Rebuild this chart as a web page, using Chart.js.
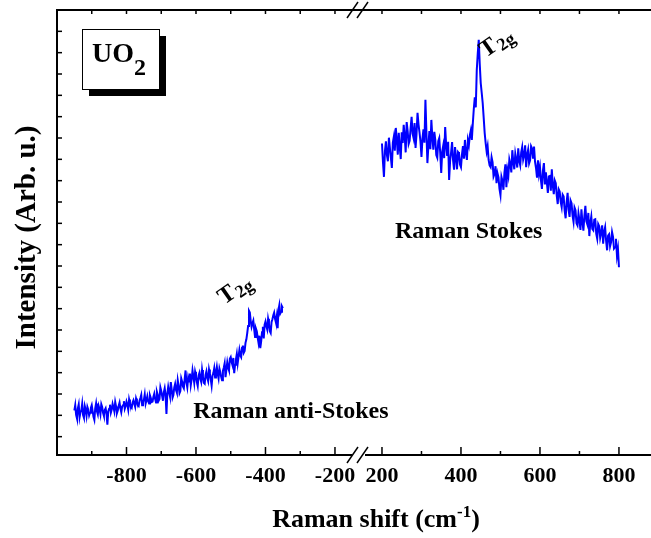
<!DOCTYPE html>
<html>
<head>
<meta charset="utf-8">
<title>UO2 Raman</title>
<script src="https://cdn.jsdelivr.net/npm/chart.js@4.4.1/dist/chart.umd.min.js"></script>
<style>
  html, body { margin: 0; padding: 0; background: #fff; }
  .wrap { position: relative; width: 651px; height: 538px; overflow: hidden; }
  .wrap canvas { position: absolute; top: 0; }
  #left  { left: 0; }
  #right { left: 352px; }
</style>
</head>
<body>
<div class="wrap">
  <canvas id="left" width="651" height="538"></canvas>
  <canvas id="right" width="310" height="538"></canvas>
</div>
<script>
// ===== data (intensity in arbitrary units, 0..100)
const antiStokesShift = [
  -950,-947.5,-945,-942.5,-940,-937.5,-935,-932.5,-930,-927.5,
  -925,-922.5,-920,-917.5,-915,-912.5,-910,-907.5,-905,-902.5,
  -900,-897.5,-895,-892.5,-890,-887.5,-885,-882.5,-880,-877.5,
  -875,-872.5,-870,-867.5,-865,-862.5,-860,-857.5,-855,-852.5,
  -850,-847.5,-845,-842.5,-840,-837.5,-835,-832.5,-830,-827.5,
  -825,-822.5,-820,-817.5,-815,-812.5,-810,-807.5,-805,-802.5,
  -800,-797.5,-795,-792.5,-790,-787.5,-785,-782.5,-780,-777.5,
  -775,-772.5,-770,-767.5,-765,-762.5,-760,-757.5,-755,-752.5,
  -750,-747.5,-745,-742.5,-740,-737.5,-735,-732.5,-730,-727.5,
  -725,-722.5,-720,-717.5,-715,-712.5,-710,-707.5,-705,-702.5,
  -700,-697.5,-695,-692.5,-690,-687.5,-685,-682.5,-680,-677.5,
  -675,-672.5,-670,-667.5,-665,-662.5,-660,-657.5,-655,-652.5,
  -650,-647.5,-645,-642.5,-640,-637.5,-635,-632.5,-630,-627.5,
  -625,-622.5,-620,-617.5,-615,-612.5,-610,-607.5,-605,-602.5,
  -600,-597.5,-595,-592.5,-590,-587.5,-585,-582.5,-580,-577.5,
  -575,-572.5,-570,-567.5,-565,-562.5,-560,-557.5,-555,-552.5,
  -550,-547.5,-545,-542.5,-540,-537.5,-535,-532.5,-530,-527.5,
  -525,-522.5,-520,-517.5,-515,-512.5,-510,-507.5,-505,-502.5,
  -500,-497.5,-495,-492.5,-490,-487.5,-485,-482.5,-480,-477.5,
  -475,-472.5,-470,-467.5,-465,-462.5,-460,-457.5,-455,-452.5,
  -450,-447.5,-445,-442.5,-440,-437.5,-435,-432.5,-430,-427.5,
  -425,-422.5,-420,-417.5,-415,-412.5,-410,-407.5,-405,-402.5,
  -400,-397.5,-395,-392.5,-390,-387.5,-385,-382.5,-380,-377.5,
  -375,-372.5,-370,-367.5,-365,-362.5,-360,-357.5,-355,-352.5,
  -350
];
const antiStokesInt = [
  10, 11.2, 9, 8.2, 10.5, 11.4, 8.5, 9.6, 10, 11.5,
  9, 8.4, 11, 10.2, 8.8, 10.8, 10.2, 8.9, 9.5, 10.6,
  11.2, 9.9, 8.6, 7.9, 10.5, 11.6, 9.8, 9.1, 11, 10.3,
  9.2, 11.4, 10.8, 9.5, 8.8, 10.1, 10.5, 9.3, 6.8, 9.8,
  10.4, 11.3, 9.5, 10.2, 11.5, 10.7, 9.8, 11.9, 10.9, 9.4,
  10, 11.1, 11.8, 10.5, 9.6, 10.9, 11.2, 12.1, 10.4, 11,
  12, 11.3, 10.2, 12.5, 11.6, 10.9, 10.6, 11.8, 12.3, 11.5,
  10.8, 12.7, 12, 11.2, 11, 12.2, 12.8, 13.5, 11.2, 12,
  12.4, 13.6, 11.5, 12.3, 13.2, 12.1, 11.6, 13.4, 12.8, 11.9,
  12, 13.1, 13.8, 12.6, 11.8, 14.2, 13.5, 12.2, 12.6, 15.2,
  14.4, 13.3, 12.2, 14.1, 15, 13.4, 9.2, 13.8, 15.3, 14.1,
  13.2, 16.4, 14.8, 12.9, 13.5, 15.2, 16, 14.6, 14, 16.8,
  15.6, 13.9, 14.4, 17.2, 16.5, 15.4, 15, 17.1, 19, 16.3,
  15.2, 17.4, 16.5, 18.3, 15.7, 17, 19, 17.6, 16.2, 18.7,
  17.8, 16.4, 15.5, 17.9, 18.5, 17.1, 16.4, 19.1, 17.6, 16.2,
  16, 18, 18.8, 17.3, 16.6, 19.2, 18.2, 17, 15.6, 17.8,
  18.4, 19.5, 17.4, 18.6, 19.8, 18.2, 17.2, 19.4, 18.6, 17.6,
  16.8, 18.9, 19.6, 20.6, 17.5, 19.2, 20.8, 19.6, 19, 21.6,
  22, 20.9, 20.2, 21.8, 18.4, 20.3, 21.5, 22.7, 20.6, 22.1,
  23.6, 22.4, 22, 24.1, 24.6, 23, 23.4, 25.2, 26, 27.4,
  29, 32.4, 32, 30.1, 28.8, 29.6, 30.2, 28.2, 26.5, 28.4,
  27.8, 26.4, 25.2, 26.8, 24, 25.5, 27.6, 28.8, 26.2, 29.3,
  30, 28.9, 28.2, 30.6, 29.5, 27.8, 27.4, 29.9, 30.5, 31.4,
  32, 30.6, 29.8, 31.2, 28.5, 32.6, 33.7, 31.8, 32.2, 33.4,
  33
];

const stokesShift = [
  200,202.5,205,207.5,210,212.5,215,217.5,220,222.5,
  225,227.5,230,232.5,235,237.5,240,242.5,245,247.5,
  250,252.5,255,257.5,260,262.5,265,267.5,270,272.5,
  275,277.5,280,282.5,285,287.5,290,292.5,295,297.5,
  300,302.5,305,307.5,310,312.5,315,317.5,320,322.5,
  325,327.5,330,332.5,335,337.5,340,342.5,345,347.5,
  350,352.5,355,357.5,360,362.5,365,367.5,370,372.5,
  375,377.5,380,382.5,385,387.5,390,392.5,395,397.5,
  400,402.5,405,407.5,410,412.5,415,417.5,420,422.5,
  425,427.5,430,432.5,435,437.5,440,442.5,445,447.5,
  450,452.5,455,457.5,460,462.5,465,467.5,470,472.5,
  475,477.5,480,482.5,485,487.5,490,492.5,495,497.5,
  500,502.5,505,507.5,510,512.5,515,517.5,520,522.5,
  525,527.5,530,532.5,535,537.5,540,542.5,545,547.5,
  550,552.5,555,557.5,560,562.5,565,567.5,570,572.5,
  575,577.5,580,582.5,585,587.5,590,592.5,595,597.5,
  600,602.5,605,607.5,610,612.5,615,617.5,620,622.5,
  625,627.5,630,632.5,635,637.5,640,642.5,645,647.5,
  650,652.5,655,657.5,660,662.5,665,667.5,670,672.5,
  675,677.5,680,682.5,685,687.5,690,692.5,695,697.5,
  700,702.5,705,707.5,710,712.5,715,717.5,720,722.5,
  725,727.5,730,732.5,735,737.5,740,742.5,745,747.5,
  750,752.5,755,757.5,760,762.5,765,767.5,770,772.5,
  775,777.5,780,782.5,785,787.5,790,792.5,795,797.5,
  800
];
const stokesInt = [
  70, 65.8, 62.5, 68.3, 70.5, 67.4, 66, 71.3, 69, 66.8,
  64.5, 70.2, 71.5, 68.4, 73.5, 70.9, 67.5, 72.4, 69.2, 66.5,
  72.5, 70.1, 74.2, 71.6, 68, 74.8, 72.8, 69.9, 70.6, 73.4,
  76, 72.2, 71.2, 74.6, 69, 72.1, 76.9, 74.3, 72.5, 70.4,
  67, 71.1, 73.2, 70.2, 79.8, 72.6, 65.6, 69.5, 72.8, 68.7,
  75.3, 71.4, 68.6, 72.6, 70.8, 67.4, 66.8, 70.5, 71.2, 67.8,
  63.4, 68.2, 69.5, 66.7, 73.7, 69.6, 67.2, 70.4, 61.8, 66.1,
  68, 70.3, 66.2, 64.1, 69.2, 66.9, 64.2, 68.1, 67.8, 65.3,
  64.7, 67.5, 69.4, 66.6, 70.8, 67.9, 66.3, 70.7, 69.6, 71.9,
  73, 70.8, 74.5, 77.8, 80.4, 78.1, 86.5, 90.2, 93.3, 87.9,
  83.6, 81.4, 79.1, 75.8, 72.4, 70.1, 68.2, 69.4, 66.3, 65.1,
  64.7, 66.9, 65.8, 62.6, 63.2, 64.9, 61.1, 63.3, 62.4, 59.8,
  58.4, 62.5, 61.6, 59.6, 63.4, 65.3, 60.2, 64.1, 62.8, 66.4,
  65.4, 63.5, 68.5, 65.9, 64.2, 67.7, 66.3, 64.6, 68.9, 66.1,
  65.1, 68, 69.2, 66.4, 67.4, 69.6, 64.7, 67.5, 68.6, 65.5,
  66.2, 69.4, 68.9, 66.6, 69.3, 65.9, 64.5, 62.3, 66.2, 63.2,
  64.7, 61.7, 59.8, 63.9, 65.6, 60.8, 63.5, 61.2, 58.9, 62.6,
  62.7, 59.4, 64.2, 60.6, 58.6, 61.7, 61.1, 58.3, 56.4, 59.7,
  59.2, 56.9, 55.7, 58.5, 58.1, 54.9, 53.2, 56.8, 58.9, 55.1,
  53.5, 57.2, 56.6, 53.8, 52.4, 55.6, 55, 52.1, 51.6, 54.3,
  52.8, 50.6, 55.2, 52.3, 50.4, 53.7, 56, 52.5, 51.8, 54.4,
  49.2, 52.2, 53.6, 50.8, 50.5, 52.9, 53, 49.7, 48.6, 51.9,
  51.4, 48.8, 49.9, 51.6, 47.5, 50.2, 51.2, 48.1, 46, 49.3,
  49.6, 46.9, 47.8, 50.1, 49, 46.4, 46.7, 48.6, 44.8, 46.3,
  42.2
];

// axis ticks (broken x axis: two segments)
const leftTicks   = [-900, -800, -700, -600, -500, -400, -300, -200];
const leftLabels  = ['', '-800', '', '-600', '', '-400', '', '-200'];
const rightTicks  = [200, 300, 400, 500, 600, 700, 800];
const rightLabels = ['200', '', '400', '', '600', '', '800'];
const leftRange   = [-1000, -151];
const rightRange  = [157, 909];
const yRange      = [0, 100];
const yTickStep   = 4.794;

// texts placed at data coordinates
const leftNotes  = [{ x: -608, y: 8.3, text: 'Raman anti-Stokes' }];
const rightNotes = [{ x: 233, y: 48.8, text: 'Raman Stokes' }];
const leftPeak   = { x: -519, y: 33.7 };
const rightPeak  = { x: 463, y: 89.2 };

const FONT = '"Liberation Serif", "Times New Roman", serif';
Chart.defaults.font.family = FONT;
Chart.defaults.color = '#000';

function seg(ctx, x1, y1, x2, y2) {
  ctx.beginPath(); ctx.moveTo(x1, y1); ctx.lineTo(x2, y2); ctx.stroke();
}

function drawT2g(ctx, px, py) {
  ctx.save();
  ctx.translate(px, py);
  ctx.rotate(-35 * Math.PI / 180);
  ctx.textAlign = 'left'; ctx.textBaseline = 'alphabetic';
  ctx.font = 'bold 24px ' + FONT;
  ctx.fillText('T', 0, 0);
  const w = ctx.measureText('T').width;
  ctx.font = 'bold 18px ' + FONT;
  ctx.fillText('2g', w + 1, 4);
  ctx.restore();
}

function drawNotes(chart, notes) {
  const { ctx, scales: { x, y } } = chart;
  ctx.save();
  ctx.fillStyle = '#000';
  ctx.font = 'bold 24px ' + FONT;
  ctx.textAlign = 'left'; ctx.textBaseline = 'alphabetic';
  notes.forEach(n => ctx.fillText(n.text, x.getPixelForValue(n.x), y.getPixelForValue(n.y)));
  ctx.restore();
}

function drawXTicks(chart, labels) {
  const { ctx, chartArea: a, scales: { x } } = chart;
  x.ticks.forEach((t, i) => {
    const px = x.getPixelForValue(t.value);
    seg(ctx, px, a.bottom, px, a.bottom - (labels[i] ? 8 : 4));
    seg(ctx, px, a.top, px, a.top + 4);
  });
}

const leftFrame = {
  id: 'leftFrame',
  afterDraw(chart) {
    const { ctx, chartArea: a, scales: { y } } = chart;
    ctx.save();
    ctx.strokeStyle = '#000';
    ctx.fillStyle = '#000';
    ctx.lineWidth = 2;
    seg(ctx, a.left, a.top - 1, a.left, a.bottom + 1);
    seg(ctx, a.left - 1, a.bottom, a.right, a.bottom);
    seg(ctx, a.left - 1, a.top, a.right + 14, a.top);
    ctx.lineWidth = 1.5;
    drawXTicks(chart, leftLabels);
    y.ticks.forEach(t => {
      const py = y.getPixelForValue(t.value);
      seg(ctx, a.left, py, a.left + 5, py);
    });
    // break marks
    [a.top, a.bottom].forEach(yy => {
      [0, 10].forEach(dx => seg(ctx, a.right - 5 + dx, yy + 8, a.right + 6 + dx, yy - 8));
    });

    // y title
    ctx.save();
    ctx.translate(28, (a.top + a.bottom) / 2 + 5);
    ctx.rotate(-Math.PI / 2);
    ctx.font = 'bold 29px ' + FONT;
    ctx.textAlign = 'center'; ctx.textBaseline = 'middle';
    ctx.fillText('Intensity (Arb. u.)', 0, 0);
    ctx.restore();

    // x title with superscript
    const main = 'Raman shift (cm', sup = '-1', end = ')';
    ctx.textBaseline = 'alphabetic'; ctx.textAlign = 'left';
    ctx.font = 'bold 26px ' + FONT;
    const w1 = ctx.measureText(main).width, w3 = ctx.measureText(end).width;
    ctx.font = 'bold 17px ' + FONT;
    const w2 = ctx.measureText(sup).width;
    let xx = 376 - (w1 + w2 + w3) / 2;
    const base = 527;
    ctx.font = 'bold 26px ' + FONT;
    ctx.fillText(main, xx, base); xx += w1;
    ctx.font = 'bold 17px ' + FONT;
    ctx.fillText(sup, xx, base - 10); xx += w2;
    ctx.font = 'bold 26px ' + FONT;
    ctx.fillText(end, xx, base);

    // UO2 box with shadow
    const bx = a.left + 25, by = a.top + 19, bw = 77, bh = 60;
    ctx.fillRect(bx + 7, by + 7, bw, bh);
    ctx.fillStyle = '#fff';
    ctx.fillRect(bx, by, bw, bh);
    ctx.lineWidth = 1;
    ctx.strokeRect(bx + 0.5, by + 0.5, bw, bh);
    ctx.fillStyle = '#000';
    ctx.font = 'bold 28px ' + FONT;
    ctx.fillText('UO', bx + 10, by + 33);
    const wu = ctx.measureText('UO').width;
    ctx.font = 'bold 24px ' + FONT;
    ctx.fillText('2', bx + 10 + wu, by + 46);
    ctx.restore();

    drawNotes(chart, leftNotes);
    drawT2g(ctx, chart.scales.x.getPixelForValue(leftPeak.x), y.getPixelForValue(leftPeak.y));
  }
};

const rightFrame = {
  id: 'rightFrame',
  afterDraw(chart) {
    const { ctx, chartArea: a, scales: { x, y } } = chart;
    ctx.save();
    ctx.strokeStyle = '#000';
    ctx.lineWidth = 2;
    seg(ctx, a.left, a.bottom, a.right, a.bottom);
    seg(ctx, a.left, a.top, a.right, a.top);
    ctx.lineWidth = 1.5;
    drawXTicks(chart, rightLabels);
    ctx.restore();
    drawNotes(chart, rightNotes);
    drawT2g(ctx, x.getPixelForValue(rightPeak.x), y.getPixelForValue(rightPeak.y));
  }
};

function xScale(range, ticks, labels) {
  return {
    type: 'linear', min: range[0], max: range[1],
    afterBuildTicks: s => { s.ticks = ticks.map(v => ({ value: v })); },
    afterFit: s => { s.height = 83; },
    grid: { display: false, drawTicks: false },
    border: { display: false },
    ticks: {
      autoSkip: false, maxRotation: 0, padding: 8, color: '#000',
      font: { size: 22, weight: 'bold' },
      callback: (v, i) => labels[i]
    }
  };
}

function lineSet(xs, ys) {
  return {
    data: xs.map((x, i) => ({ x, y: ys[i] })),
    borderColor: '#0000ff', borderWidth: 2,
    pointRadius: 0, tension: 0, fill: false
  };
}

function baseOpts(padding, x, y) {
  return {
    responsive: false, animation: false,
    layout: { padding },
    plugins: { legend: { display: false }, tooltip: { enabled: false } },
    scales: { x, y }
  };
}

new Chart(document.getElementById('left'), {
  type: 'line',
  data: { datasets: [lineSet(antiStokesShift, antiStokesInt)] },
  options: baseOpts(
    { left: 0, right: 299, top: 10, bottom: 0 },
    xScale(leftRange, leftTicks, leftLabels),
    {
      min: yRange[0], max: yRange[1],
      afterBuildTicks: s => {
        const t = [];
        for (let v = yRange[1]; v > 0; v -= yTickStep) t.push({ value: v });
        s.ticks = t;
      },
      afterFit: s => { s.width = 57; },
      grid: { display: false, drawTicks: false },
      border: { display: false },
      ticks: { display: false }
    }
  ),
  plugins: [leftFrame]
});

new Chart(document.getElementById('right'), {
  type: 'line',
  data: { datasets: [lineSet(stokesShift, stokesInt)] },
  options: baseOpts(
    { left: 13, right: 0, top: 10, bottom: 0 },
    xScale(rightRange, rightTicks, rightLabels),
    { min: yRange[0], max: yRange[1], display: false }
  ),
  plugins: [rightFrame]
});
</script>
</body>
</html>
